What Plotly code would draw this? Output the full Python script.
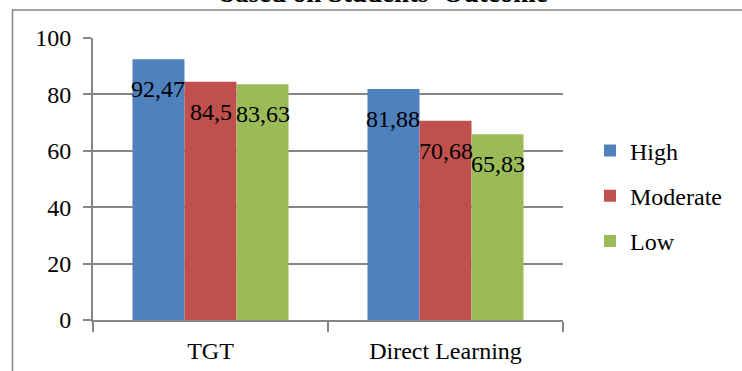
import plotly.graph_objects as go

categories = ["TGT", "Direct Learning"]
series_names = ["High", "Moderate", "Low"]
high = [92.47, 81.88]
moderate = [84.5, 70.68]
low = [83.63, 65.83]
colors = ["#4F81BD", "#C0504D", "#9BBB59"]
title_text = "based on Students' Outcome"

FONT = "Liberation Serif"
GRID = "#868686"

fig = go.Figure()
all_values = [high, moderate, low]
for name, vals, col in zip(series_names, all_values, colors):
    fig.add_trace(go.Bar(
        x=categories, y=vals, name=name, marker=dict(color=col, line=dict(width=0)),
        legendgroup=name,
    ))

W, H = 742, 371
L, R, T, B = 93, 179, 38, 51
pw = W - L - R
ph = H - T - B
cat_px = pw / len(categories)
bargap = 0.336
bar_px = cat_px * (1 - bargap) / len(series_names)

annotations = []
for i, vals in enumerate(all_values):
    for cat, v in zip(categories, vals):
        annotations.append(dict(
            x=cat, y=v, xref="x", yref="y",
            text=("%g" % v).replace(".", ","),
            showarrow=False, xanchor="center", yanchor="middle",
            xshift=(i - 1) * bar_px, yshift=-30,
            font=dict(family=FONT, size=24, color="black"),
        ))

annotations.append(dict(
    x=(384 - L) / pw, y=(H - B - 10) / ph, xref="paper", yref="paper",
    text="<b>" + title_text + "</b>", showarrow=False,
    xanchor="center", yanchor="bottom",
    font=dict(family=FONT, size=27, color="black"),
))

fig.update_layout(
    width=W, height=H,
    margin=dict(l=L, r=R, t=T, b=B, pad=0, autoexpand=False),
    paper_bgcolor="white", plot_bgcolor="white",
    barmode="group", bargap=bargap, bargroupgap=0,
    font=dict(family=FONT, size=24, color="black"),
    showlegend=True,
    legend=dict(
        x=(590 - L) / pw, xanchor="left",
        y=(H - B - 196) / ph, yanchor="middle",
        font=dict(family=FONT, size=24, color="black"),
        tracegroupgap=11, bgcolor="rgba(0,0,0,0)",
    ),
    annotations=annotations,
    shapes=[dict(
        type="rect", xref="paper", yref="paper",
        x0=(12.5 - L) / pw, x1=3, y0=-2, y1=(H - B - 10) / ph,
        line=dict(color=GRID, width=1.5), fillcolor="rgba(0,0,0,0)", layer="below",
    )],
)

fig.update_yaxes(
    range=[0, 100], dtick=20, showgrid=True, gridcolor=GRID, gridwidth=2,
    showline=True, linecolor=GRID, linewidth=2,
    ticks="outside", ticklen=8, tickcolor=GRID, tickwidth=2,
    zeroline=False, ticklabelstandoff=7,
)
fig.update_xaxes(
    showgrid=False, showline=True, linecolor=GRID, linewidth=2,
    ticks="outside", ticklen=10, tickcolor=GRID, tickwidth=2,
    tickson="boundaries", ticklabelstandoff=8,
)

fig.write_html("out.html")
